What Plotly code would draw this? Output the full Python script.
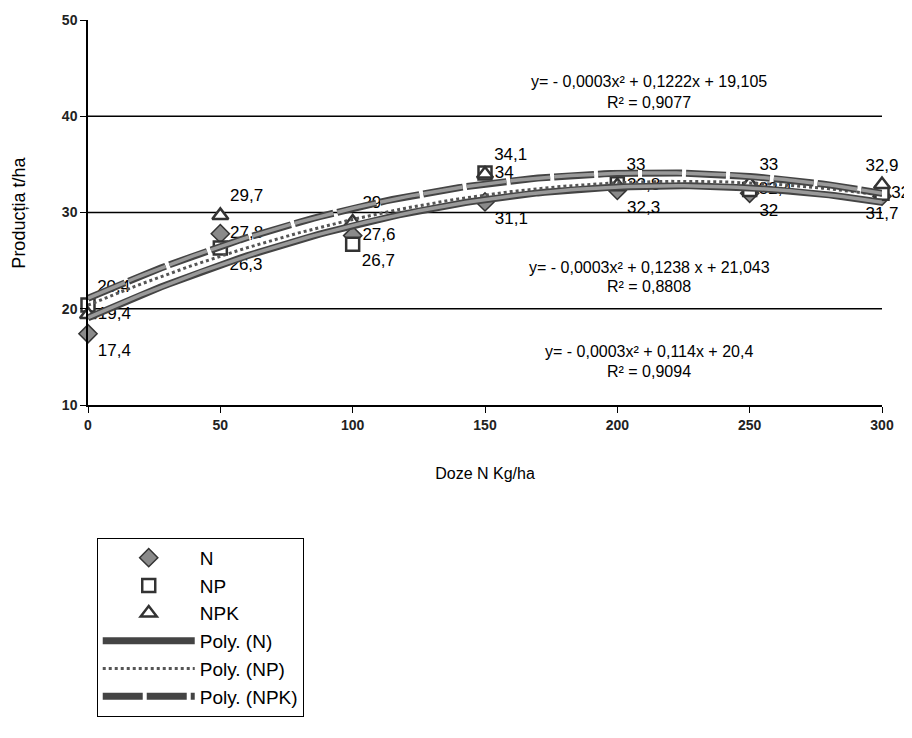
import numpy as np
import plotly.graph_objects as go

doses = [0, 50, 100, 150, 200, 250, 300]
prod_N = [17.4, 27.8, 27.6, 31.1, 32.3, 32.0, 31.7]
prod_NP = [20.4, 26.3, 26.7, 34.1, 33.0, 32.4, 32.0]
prod_NPK = [19.4, 29.7, 29.0, 34.0, 32.8, 33.0, 32.9]

eq_texts = [
    ("y= - 0,0003x\u00b2 + 0,1222x + 19,105", "R\u00b2 = 0,9077", 43.6, 41.4),
    ("y= - 0,0003x\u00b2 + 0,1238 x + 21,043", "R\u00b2 = 0,8808", 24.3, 22.3),
    ("y= - 0,0003x\u00b2 + 0,114x + 20,4", "R\u00b2 = 0,9094", 15.6, 13.5),
]

def fmt(v):
    s = ("%.1f" % v).replace(".", ",")
    return s[:-2] if s.endswith(",0") else s

series = [prod_N, prod_NP, prod_NPK]

def positions(k):
    out = []
    for i, x in enumerate(doses):
        vals = [s[i] for s in series]
        order = sorted(range(3), key=lambda j: -vals[j])
        rank = order.index(k)
        v = ["top", "middle", "bottom"][rank]
        h = "right" if x < 300 else ("center" if rank != 1 else "right")
        out.append(v + " " + h)
    return out

xg = np.linspace(0, 300, 121)
def fit(y):
    c = np.polyfit(doses, y, 2)
    return np.polyval(c, xg)

fig = go.Figure()
lab_font = dict(family="Arial, Liberation Sans", size=17, color="black")

fig.add_trace(go.Scatter(x=doses, y=prod_N, mode="markers+text", name="N", cliponaxis=False,
    text=[fmt(v) for v in prod_N], textposition=positions(0), textfont=lab_font,
    marker=dict(symbol="diamond", size=14, color="#8a8a8a", line=dict(color="#333", width=1.5))))
fig.add_trace(go.Scatter(x=doses, y=prod_NP, mode="markers+text", name="NP", cliponaxis=False,
    text=[fmt(v) for v in prod_NP], textposition=positions(1), textfont=lab_font,
    marker=dict(symbol="square", size=13, color="white", line=dict(color="#333", width=2.5))))
fig.add_trace(go.Scatter(x=doses, y=prod_NPK, mode="markers+text", name="NPK", cliponaxis=False,
    text=[fmt(v) for v in prod_NPK], textposition=positions(2), textfont=lab_font,
    marker=dict(symbol="triangle-up", size=14, color="white", line=dict(color="#333", width=2.5))))

yN, yNP, yNPK = fit(prod_N), fit(prod_NP), fit(prod_NPK)
fig.add_trace(go.Scatter(x=xg, y=yN, mode="lines", name="Poly. (N)",
    line=dict(color="#444", width=7)))
fig.add_trace(go.Scatter(x=xg, y=yN, mode="lines", showlegend=False, hoverinfo="skip",
    line=dict(color="#9a9a9a", width=3.5)))
fig.add_trace(go.Scatter(x=xg, y=yNP, mode="lines", name="Poly. (NP)",
    line=dict(color="#555", width=3, dash="dot")))
fig.add_trace(go.Scatter(x=xg, y=yNPK, mode="lines", name="Poly. (NPK)",
    line=dict(color="#444", width=7, dash="40px,4px")))
fig.add_trace(go.Scatter(x=xg, y=yNPK, mode="lines", showlegend=False, hoverinfo="skip",
    line=dict(color="#9a9a9a", width=3.5, dash="40px,4px")))

ann = []
for eq, r2, ye, yr in eq_texts:
    for t, yy in ((eq, ye), (r2, yr)):
        ann.append(dict(x=212, y=yy, xref="x", yref="y", text=t, showarrow=False,
                        font=dict(family="Arial, Liberation Sans", size=16, color="black")))
ann.append(dict(x=-0.088, y=0.5, xref="paper", yref="paper", text="Producția t/ha",
                textangle=-90, showarrow=False, xanchor="center", yanchor="middle",
                font=dict(family="Arial, Liberation Sans", size=18, color="black")))

tick_font = dict(family="Arial, Liberation Sans", size=14, color="#222", weight="bold")
fig.update_layout(
    width=904, height=730,
    margin=dict(l=80, r=30, t=12, b=333),
    plot_bgcolor="white", paper_bgcolor="white",
    showlegend=True,
    legend=dict(x=0.011, y=-0.345, xanchor="left", yanchor="top",
                bordercolor="black", borderwidth=1, bgcolor="white",
                font=dict(family="Arial, Liberation Sans", size=19, color="black"),
                itemwidth=92, traceorder="normal", tracegroupgap=0),
    annotations=ann,
    xaxis=dict(range=[0, 300], tickvals=doses, ticks="outside", ticklen=6,
               tickcolor="black", showline=True, linecolor="black", linewidth=1.5,
               showgrid=False, zeroline=False, tickfont=tick_font, automargin=False,
               title=dict(text="Doze N Kg/ha", standoff=36,
                          font=dict(family="Arial, Liberation Sans", size=16, color="black"))),
    yaxis=dict(range=[10, 50], tickvals=[10, 20, 30, 40, 50], ticks="outside", ticklen=6,
               tickcolor="black", showline=True, linecolor="black", linewidth=1.5,
               showgrid=False, zeroline=False, tickfont=tick_font, automargin=False),
    shapes=[dict(type="line", xref="paper", x0=0, x1=1, yref="y", y0=g, y1=g,
                 line=dict(color="black", width=1.5), layer="below") for g in [20, 30, 40]],
)

fig.write_html("out.html")
